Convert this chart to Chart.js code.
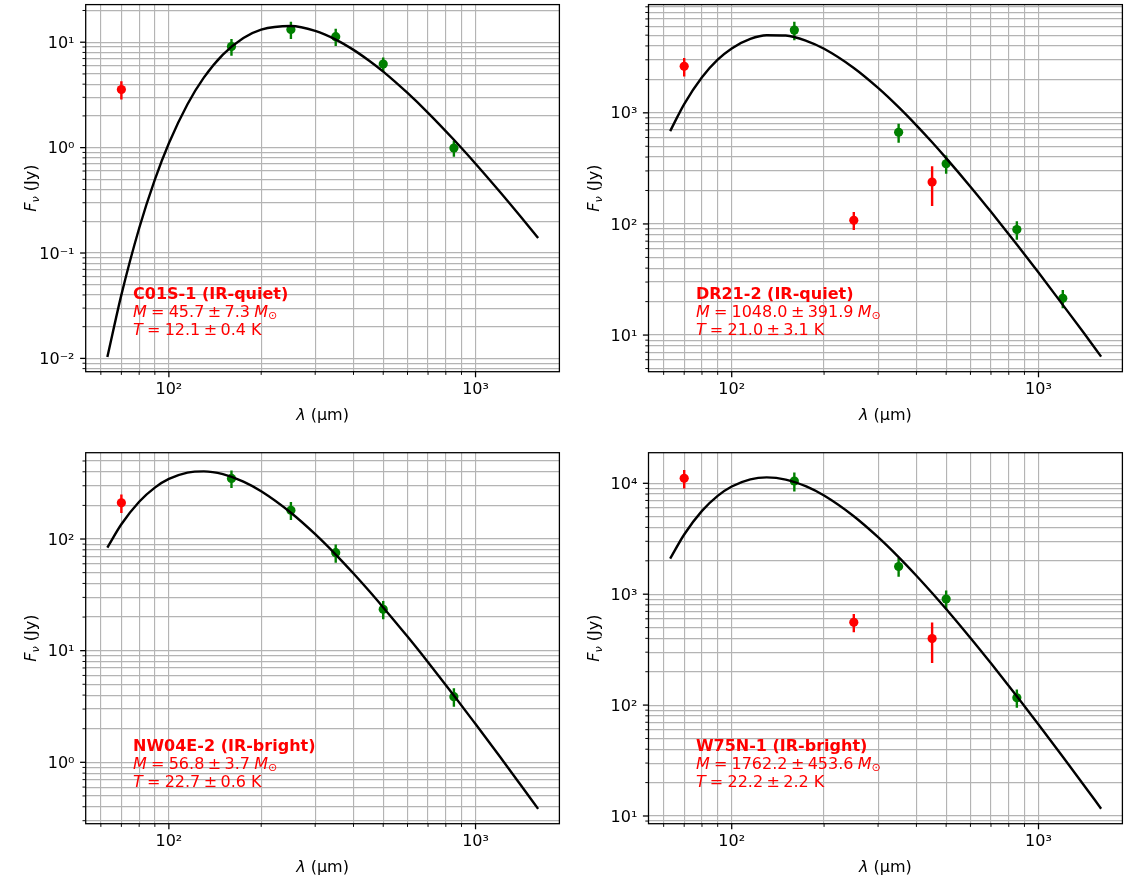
<!DOCTYPE html>
<html><head><meta charset="utf-8">
<script src="https://cdn.jsdelivr.net/npm/chart.js@4.4.1/dist/chart.umd.min.js"></script>
<style>
html,body{margin:0;padding:0;background:#fff;}
#wrap{position:relative;width:1127px;height:884px;overflow:hidden;background:#fff;}
canvas{position:absolute;}
</style></head><body>
<div id="wrap">
<canvas id="c0" width="564" height="440" style="left:0px;top:0px"></canvas>
<canvas id="c1" width="563" height="440" style="left:564px;top:0px"></canvas>
<canvas id="c2" width="564" height="444" style="left:0px;top:440px"></canvas>
<canvas id="c3" width="563" height="444" style="left:564px;top:440px"></canvas>
</div>
<script>
// ---------------- data ----------------
const sourceNames = ['C01S-1 (IR-quiet)', 'DR21-2 (IR-quiet)', 'NW04E-2 (IR-bright)', 'W75N-1 (IR-bright)'];
const massValues = ['45.7', '1048.0', '56.8', '1762.2'];
const massErrors = ['7.3', '391.9', '3.7', '453.6'];
const tempValues = ['12.1', '21.0', '22.7', '22.2'];
const tempErrors = ['0.4', '3.1', '0.6', '2.2'];

// observed photometry (wavelength in micron, flux in Jy, 1-sigma error, excluded flag -> red)
const lamC01S = [70, 160, 250, 350, 500, 850];
const fluxC01S = [3.56, 9.1, 13.2, 11.3, 6.2, 0.99];
const errC01S = [0.70, 1.65, 2.45, 2.1, 0.95, 0.17];
const exclC01S = [1, 0, 0, 0, 0, 0];

const lamDR21 = [70, 160, 250, 350, 450, 500, 850, 1200];
const fluxDR21 = [2620, 5550, 108, 668, 238, 348, 89, 21.4];
const errDR21 = [500, 1050, 20, 130, 93, 65, 17, 4];
const exclDR21 = [1, 0, 1, 0, 1, 0, 0, 0];

const lamNW04 = [70, 160, 250, 350, 500, 850];
const fluxNW04 = [211, 349, 181, 75.4, 23.5, 3.87];
const errNW04 = [40, 62, 33, 14, 4.4, 0.73];
const exclNW04 = [1, 0, 0, 0, 0, 0];

const lamW75N = [70, 160, 250, 350, 450, 500, 850];
const fluxW75N = [11090, 10490, 558, 1778, 398, 905, 116.5];
const errW75N = [2100, 2050, 105, 340, 158, 175, 22];
const exclW75N = [1, 0, 1, 0, 1, 0, 0];

// fitted greybody curves
const curveLam = [63, 70, 80, 90, 100, 115, 130, 150, 175, 200, 250, 300, 350, 400, 450, 500, 600, 700, 850, 1000, 1200, 1400, 1600];
const curveC01S = [0.01029, 0.0401, 0.1719, 0.4974, 1.101, 2.582, 4.611, 7.636, 10.97, 13.18, 14.27, 12.80, 10.59, 8.46, 6.67, 5.26, 3.30, 2.14, 1.187, 0.704, 0.3814, 0.2233, 0.139];
const curveDR21 = [684, 1199, 2091, 3006, 3802, 4626, 4995, 4958, 4447, 3772, 2535, 1676, 1124, 771, 543, 391, 216.4, 128.5, 65.3, 36.5, 18.7, 10.6, 6.40];
const curveNW04 = [83.9, 135.6, 215.8, 288.8, 345.2, 393.1, 403.7, 380.8, 326.3, 267.4, 171.8, 110.4, 72.6, 49.1, 34.2, 24.4, 13.37, 7.88, 3.97, 2.20, 1.126, 0.633, 0.383];
const curveW75N = [2092, 3455, 5640, 7702, 9354, 10853, 11300, 10812, 9380, 7760, 5050, 3268, 2161, 1468, 1025, 734.5, 402.9, 237.9, 120.1, 66.8, 34.2, 19.25, 11.64];

// axes
const xRange = [53.55, 1877];
const yRanges = [[0.00748, 22.75], [4.68, 9419], [0.282, 593], [8.52, 18880]];
const xTickValues = [100, 1000];
const xTickLabels = ['10²', '10³'];
const yTickValues = [[0.01, 0.1, 1, 10], [10, 100, 1000], [1, 10, 100], [10, 100, 1000, 10000]];
const yTickLabels = [['10⁻²', '10⁻¹', '10⁰', '10¹'], ['10¹', '10²', '10³'], ['10⁰', '10¹', '10²'], ['10¹', '10²', '10³', '10⁴']];

// ---------------- layout ----------------
const panelLayout = [
  {id: 'c0', w: 564, h: 440, l: 85.7, r: 560, t: 1, b: 371.7},
  {id: 'c1', w: 563, h: 440, l: 84.5, r: 558.7, t: 1, b: 371.7},
  {id: 'c2', w: 564, h: 444, l: 85.7, r: 560, t: 12.7, b: 383.7},
  {id: 'c3', w: 563, h: 444, l: 84.5, r: 558.7, t: 12.7, b: 383.7}
];
const panelData = [
  [lamC01S, fluxC01S, errC01S, exclC01S, curveC01S],
  [lamDR21, fluxDR21, errDR21, exclDR21, curveDR21],
  [lamNW04, fluxNW04, errNW04, exclNW04, curveNW04],
  [lamW75N, fluxW75N, errW75N, exclW75N, curveW75N]
];

const FAM = '"DejaVu Sans"';
const F_REG = '16px ' + FAM;
const F_ITA = 'italic 16px ' + FAM;
const F_BOLD = 'bold 16px ' + FAM;
const F_SUB_ITA = 'italic 11.2px ' + FAM;
const F_SUB = '11.2px ' + FAM;
const RED = '#ff0000', GREEN = '#008000';

function logTicks(min, max) {
  const out = [];
  for (let e = Math.floor(Math.log10(min)); e <= Math.ceil(Math.log10(max)); e++) {
    for (let m = 1; m <= 9; m++) {
      const v = m * Math.pow(10, e);
      if (v >= min && v <= max) out.push(v);
    }
  }
  return out;
}
function labelFor(v, vals, labs) {
  for (let i = 0; i < vals.length; i++) if (Math.abs(v - vals[i]) / vals[i] < 1e-6) return labs[i];
  return '';
}
function runsWidth(ctx, runs) {
  let w = 0;
  for (const r of runs) { ctx.font = r.font; w += (r.gap || 0) + ctx.measureText(r.text).width; }
  return w;
}
function drawRuns(ctx, runs, x, y) {
  for (const r of runs) {
    ctx.font = r.font; x += (r.gap || 0);
    ctx.fillText(r.text, x, y + (r.dy || 0));
    x += ctx.measureText(r.text).width;
  }
}

const decor = {
  id: 'decor',
  afterDraw(chart, args, opts) {
    const ctx = chart.ctx, a = chart.chartArea;
    const xs = chart.scales.x, ys = chart.scales.y;
    ctx.save();
    ctx.strokeStyle = '#000';
    // tick marks
    for (const t of xs.ticks) {
      const major = t.label !== '';
      const p = xs.getPixelForValue(t.value);
      ctx.lineWidth = major ? 1.28 : 0.96;
      ctx.beginPath(); ctx.moveTo(p, a.bottom); ctx.lineTo(p, a.bottom + (major ? 5.6 : 3.2)); ctx.stroke();
    }
    for (const t of ys.ticks) {
      const major = t.label !== '';
      const p = ys.getPixelForValue(t.value);
      ctx.lineWidth = major ? 1.28 : 0.96;
      ctx.beginPath(); ctx.moveTo(a.left, p); ctx.lineTo(a.left - (major ? 5.6 : 3.2), p); ctx.stroke();
    }
    // spines
    ctx.lineWidth = 1.28;
    ctx.strokeRect(a.left, a.top, a.right - a.left, a.bottom - a.top);
    // axis titles
    ctx.fillStyle = '#000';
    ctx.textBaseline = 'alphabetic';
    const xr = [{text: 'λ', font: F_ITA}, {text: ' (µm)', font: F_REG}];
    const xw = runsWidth(ctx, xr);
    drawRuns(ctx, xr, (a.left + a.right) / 2 - xw / 2, a.bottom + 48);
    const yr = [{text: 'F', font: F_ITA}, {text: 'ν', font: F_SUB_ITA, dy: 3}, {text: ' (Jy)', font: F_REG}];
    const yw = runsWidth(ctx, yr);
    ctx.save();
    ctx.translate(a.left - 50, (a.top + a.bottom) / 2);
    ctx.rotate(-Math.PI / 2);
    drawRuns(ctx, yr, -yw / 2, 0);
    ctx.restore();
    // annotation
    const i = opts.index;
    const x0 = a.left + 0.1 * (a.right - a.left);
    const y3 = a.bottom - 0.1 * (a.bottom - a.top);
    ctx.fillStyle = RED;
    drawRuns(ctx, [{text: sourceNames[i], font: F_BOLD}], x0, y3 - 36);
    drawRuns(ctx, [
      {text: 'M', font: F_ITA}, {text: '=', font: F_REG, gap: 4.2}, {text: massValues[i], font: F_REG, gap: 4.2},
      {text: '±', font: F_REG, gap: 3.4}, {text: massErrors[i], font: F_REG, gap: 3.4},
      {text: 'M', font: F_ITA, gap: 4.2}, {text: '⊙', font: F_SUB, dy: 2.5}
    ], x0, y3 - 18);
    drawRuns(ctx, [
      {text: 'T', font: F_ITA}, {text: '=', font: F_REG, gap: 4.2}, {text: tempValues[i], font: F_REG, gap: 4.2},
      {text: '±', font: F_REG, gap: 3.4}, {text: tempErrors[i], font: F_REG, gap: 3.4}, {text: ' K', font: F_REG}
    ], x0, y3);
    ctx.restore();
  }
};

function buildPanel(i) {
  const L = panelLayout[i];
  const [lam, flux, err, excl, curve] = panelData[i];
  const pts = (flag) => lam.map((x, k) => excl[k] === flag ? {x, y: flux[k]} : null).filter(Boolean);
  const bars = (flag) => {
    const d = [];
    lam.forEach((x, k) => {
      if (excl[k] !== flag) return;
      d.push({x, y: flux[k] - err[k]}, {x, y: flux[k] + err[k]}, {x, y: null});
    });
    return d;
  };
  const datasets = [
    {data: curveLam.map((x, k) => ({x, y: curve[k]})), showLine: true, borderColor: '#000', borderWidth: 2.4,
     pointRadius: 0, cubicInterpolationMode: 'monotone', fill: false},
    {data: pts(1), backgroundColor: RED, borderWidth: 0, pointRadius: 4.6, showLine: false},
    {data: pts(0), backgroundColor: GREEN, borderWidth: 0, pointRadius: 4.6, showLine: false},
    {data: bars(1), showLine: true, borderColor: RED, borderWidth: 2.4, pointRadius: 0, spanGaps: false},
    {data: bars(0), showLine: true, borderColor: GREEN, borderWidth: 2.4, pointRadius: 0, spanGaps: false}
  ];
  const grid = {color: '#b4b4b4', lineWidth: 1.15, drawTicks: false};
  new Chart(document.getElementById(L.id), {
    type: 'scatter',
    data: {datasets},
    options: {
      responsive: false, animation: false, devicePixelRatio: 1,
      layout: {padding: {left: 0, top: L.t, right: L.w - L.r, bottom: 0}},
      plugins: {legend: {display: false}, tooltip: {enabled: false}, decor: {index: i}},
      scales: {
        x: {
          type: 'logarithmic', min: xRange[0], max: xRange[1],
          grid, border: {display: false},
          ticks: {autoSkip: false, maxRotation: 0, padding: 8.7, color: '#000', font: {family: 'DejaVu Sans', size: 16},
                  callback: (v) => labelFor(v, xTickValues, xTickLabels)},
          afterBuildTicks: (s) => { s.ticks = logTicks(s.min, s.max).map(v => ({value: v})); },
          afterFit: (s) => { s.height = L.h - L.b; s.paddingLeft = 0; s.paddingRight = 0; s.paddingTop = 0; s.paddingBottom = 0; }
        },
        y: {
          type: 'logarithmic', min: yRanges[i][0], max: yRanges[i][1],
          grid, border: {display: false},
          ticks: {autoSkip: false, padding: 11.2, labelOffset: 1.5, color: '#000', font: {family: 'DejaVu Sans', size: 16},
                  callback: (v) => labelFor(v, yTickValues[i], yTickLabels[i])},
          afterBuildTicks: (s) => { s.ticks = logTicks(s.min, s.max).map(v => ({value: v})); },
          afterFit: (s) => { s.width = L.l; s.paddingLeft = 0; s.paddingRight = 0; s.paddingTop = 0; s.paddingBottom = 0; }
        }
      }
    },
    plugins: [decor]
  });
}
for (let i = 0; i < 4; i++) buildPanel(i);
</script>
</body></html>
